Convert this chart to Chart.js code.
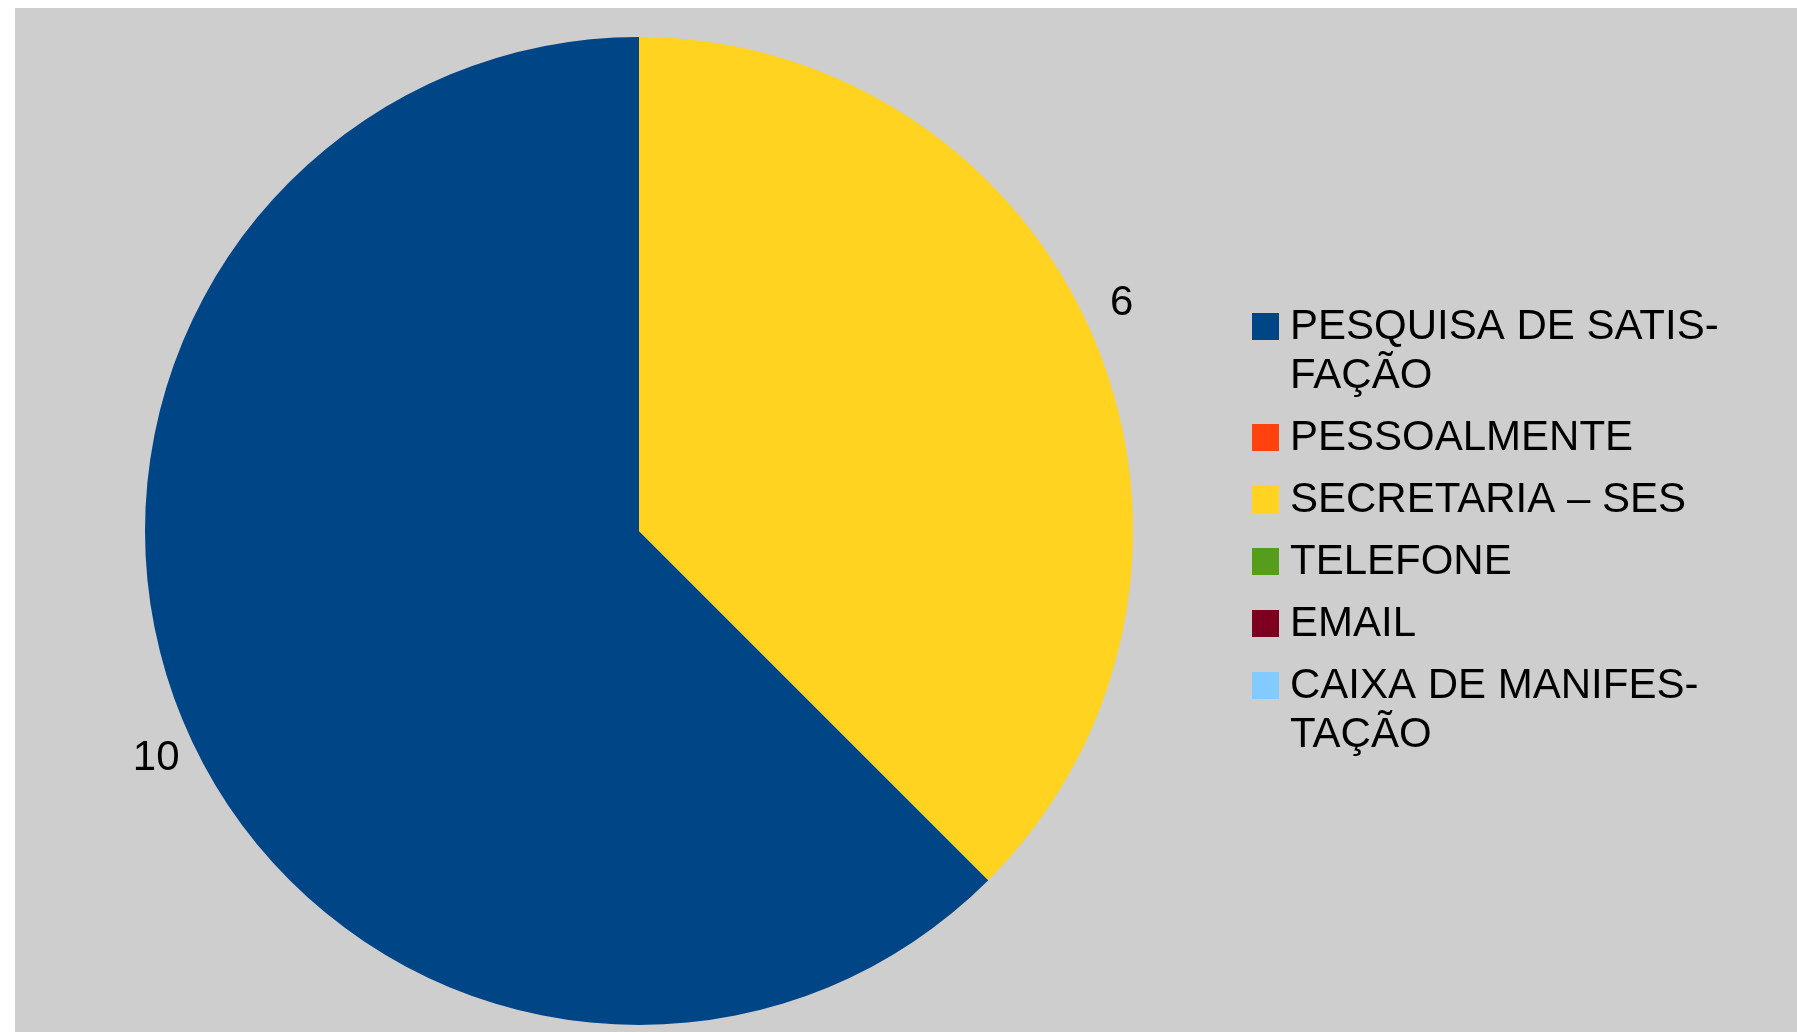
<!DOCTYPE html>
<html>
<head>
<meta charset="utf-8">
<script src="https://cdn.jsdelivr.net/npm/chart.js@4"></script>
<style>
  html, body { margin: 0; padding: 0; background: #ffffff; }
  #wrap { position: absolute; left: 15px; top: 8px; width: 1782px; height: 1024px; }
</style>
</head>
<body>
<div id="wrap"><canvas id="pie_chart" width="1782" height="1024"></canvas></div>
<script>
const categories = [
  ["PESQUISA DE SATIS-", "FAÇÃO"],
  ["PESSOALMENTE"],
  ["SECRETARIA – SES"],
  ["TELEFONE"],
  ["EMAIL"],
  ["CAIXA DE MANIFES-", "TAÇÃO"],
];
const counts = [10, 0, 6, 0, 0, 0];
const colors = ["#004586", "#ff420e", "#ffd320", "#579d1c", "#7e0021", "#83caff"];

const textFont = "42px 'Liberation Sans', Arial, sans-serif";

// grey area behind the chart
const background = {
  id: "background",
  beforeDraw(chart) {
    const ctx = chart.ctx;
    ctx.save();
    ctx.fillStyle = "#cececf";
    ctx.fillRect(0, 0, chart.width, chart.height);
    ctx.restore();
  }
};

// value labels outside the non-zero slices
const valueLabels = {
  id: "valueLabels",
  afterDatasetsDraw(chart) {
    const ctx = chart.ctx;
    const meta = chart.getDatasetMeta(0);
    ctx.save();
    ctx.font = textFont;
    ctx.fillStyle = "#000000";
    ctx.textAlign = "center";
    ctx.textBaseline = "middle";
    meta.data.forEach((arc, i) => {
      const v = chart.data.datasets[0].data[i];
      if (!v) return;
      const mid = (arc.startAngle + arc.endAngle) / 2 - 0.047;
      const r = arc.outerRadius * 1.08;
      ctx.fillText(String(v), arc.x + Math.cos(mid) * r, arc.y + Math.sin(mid) * r);
    });
    ctx.restore();
  }
};

// legend on the right, with wrapped labels
const sideLegend = {
  id: "sideLegend",
  afterDraw(chart) {
    const ctx = chart.ctx;
    const labels = chart.data.labels;
    const bg = chart.data.datasets[0].backgroundColor;
    const boxX = 1237, textX = 1275;
    let top = 300;
    ctx.save();
    ctx.font = textFont;
    ctx.textAlign = "left";
    ctx.textBaseline = "alphabetic";
    labels.forEach((lines, i) => {
      ctx.fillStyle = bg[i];
      ctx.fillRect(boxX, top + 5, 27, 27);
      ctx.fillStyle = "#000000";
      lines.forEach((line, j) => {
        ctx.fillText(line, textX, top + j * 49 + 31);
      });
      top += (lines.length - 1) * 49 + 62;
    });
    ctx.restore();
  }
};

const pie_ctx = document.getElementById("pie_chart");

new Chart(pie_ctx, {
  type: "pie",
  data: {
    labels: categories,
    datasets: [
      {
        data: counts,
        backgroundColor: colors,
        borderWidth: 0,
        hoverOffset: 0,
      },
    ],
  },
  options: {
    responsive: false,
    animation: false,
    devicePixelRatio: 1,
    rotation: 135,
    layout: {
      padding: { left: 130, top: 29, right: 664, bottom: 7 }
    },
    plugins: {
      legend: { display: false },
      tooltip: { enabled: false }
    }
  },
  plugins: [background, valueLabels, sideLegend]
});
</script>
</body>
</html>
